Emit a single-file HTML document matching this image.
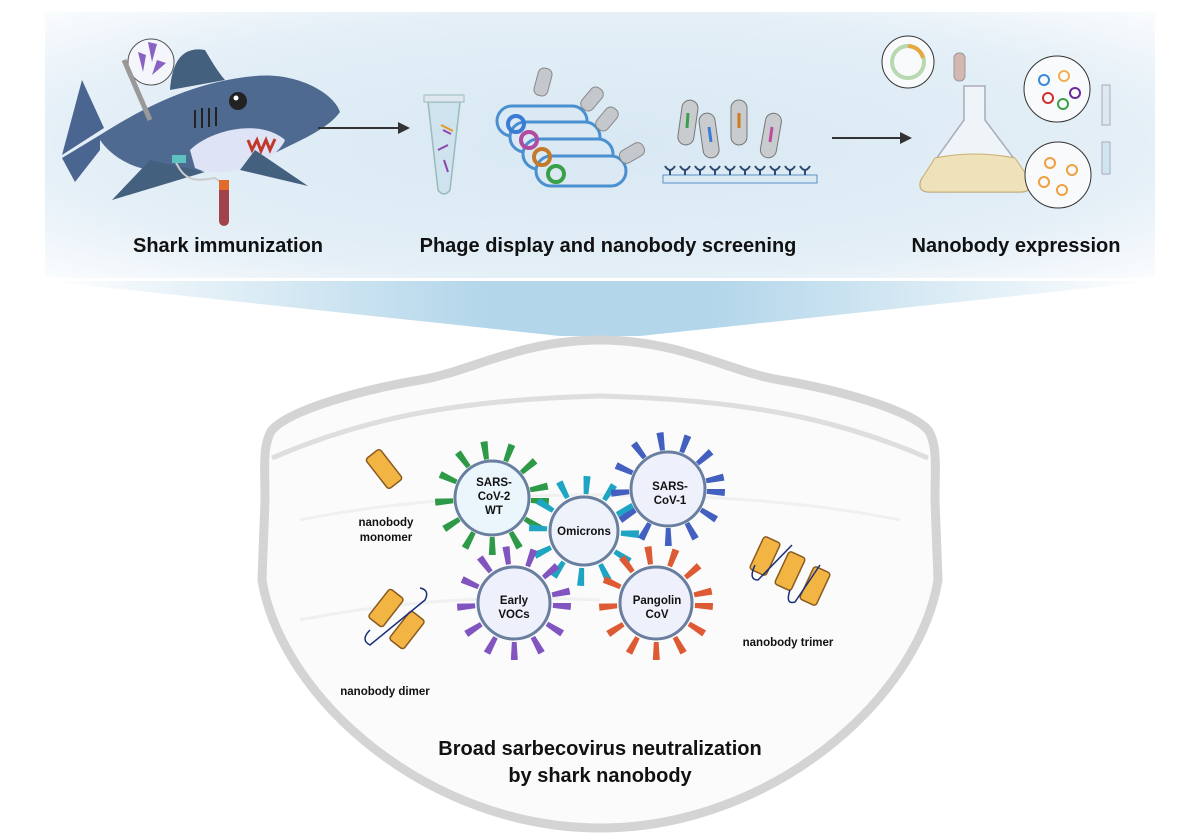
<!DOCTYPE html>
<html><head><meta charset="utf-8"><style>
html,body{margin:0;padding:0;background:#fff;}
svg{display:block;}
text{font-family:"Liberation Sans",sans-serif;font-weight:bold;fill:#111;}
</style></head><body>
<svg width="1200" height="840" viewBox="0 0 1200 840" xmlns="http://www.w3.org/2000/svg">
<defs>
<radialGradient id="top" cx="0.5" cy="0.5" r="0.75">
<stop offset="0" stop-color="#d8e8f3"/><stop offset="0.65" stop-color="#e4eff7"/><stop offset="1" stop-color="#ffffff"/>
</radialGradient>
<linearGradient id="fun" x1="0" x2="1" y1="0" y2="0">
<stop offset="0" stop-color="#ffffff"/><stop offset="0.4" stop-color="#b3d6ea"/><stop offset="0.6" stop-color="#b3d6ea"/><stop offset="1" stop-color="#ffffff"/>
</linearGradient>
</defs>
<rect x="45" y="12" width="1110" height="266" fill="url(#top)"/>
<path d="M45,281 L1155,281 L640,336 L560,336 Z" fill="url(#fun)"/>

<!-- shark -->
<path d="M62,155 L82,80 L104,128 Z" fill="#4a6590"/>
<path d="M62,158 L100,135 L100,150 L75,182 Z" fill="#4a6590"/>
<path d="M100,135 C140,110 190,82 255,76 C300,72 335,95 340,112 C330,126 310,136 285,148 C250,166 200,176 150,170 C125,166 108,152 100,140 Z" fill="#4f6a91"/>
<path d="M170,90 C172,62 182,46 205,50 C212,62 218,72 225,80 Z" fill="#44607f"/>
<path d="M190,150 C210,130 260,118 285,140 C275,165 220,180 195,168 Z" fill="#dfe3f6"/>
<path d="M255,150 L308,186 L240,170 Z" fill="#44607f"/>
<path d="M150,160 L112,200 L205,172 Z" fill="#44607f"/>
<path d="M248,140 L252,150 L257,140 L261,151 L266,140 L270,150 L275,139" stroke="#c0392b" stroke-width="3" fill="none"/>
<circle cx="238" cy="101" r="9" fill="#222"/><circle cx="236" cy="98" r="2.5" fill="#fff"/>
<g stroke="#222" stroke-width="2"><line x1="195" y1="110" x2="195" y2="128"/><line x1="202" y1="108" x2="202" y2="128"/><line x1="209" y1="108" x2="209" y2="127"/><line x1="216" y1="107" x2="216" y2="126"/></g>
<circle cx="151" cy="62" r="23" fill="#f4f6fb" stroke="#555" stroke-width="1"/>
<g fill="#8a62c3"><path d="M138,52 L146,55 L143,72 Z"/><path d="M148,42 L157,44 L152,62 Z"/><path d="M157,60 L166,63 L152,75 Z"/></g>
<line x1="124" y1="60" x2="150" y2="120" stroke="#999" stroke-width="5"/>
<path d="M175,160 C185,185 200,180 215,178 L225,185" stroke="#ccc" stroke-width="2" fill="none"/>
<rect x="172" y="155" width="14" height="8" fill="#5ec3c0"/>
<rect x="219" y="182" width="10" height="44" rx="5" fill="#a2424a"/>
<rect x="219" y="180" width="10" height="10" fill="#e26b2a"/>
<line x1="318" y1="128" x2="398" y2="128" stroke="#333" stroke-width="2"/>
<path d="M398,122 L410,128 L398,134 Z" fill="#333"/>

<!-- tube -->
<path d="M428,102 L460,102 L450,190 Q444,198 438,190 Z" fill="#cfe3ef" stroke="#9bb" stroke-width="1.5"/>
<rect x="424" y="95" width="40" height="7" fill="#dfe8ee" stroke="#9bb"/>
<path d="M443,130 l8,4 M438,150 l10,-5 M444,160 l4,12" stroke="#8e44ad" stroke-width="2"/>
<path d="M441,125 l12,6" stroke="#e69a20" stroke-width="2"/>
<!-- bacteria stack -->
<g fill="#dbe9f4" stroke="#4a8fd0" stroke-width="3">
<rect x="497" y="106" width="90" height="30" rx="15"/>
<rect x="510" y="122" width="90" height="30" rx="15"/>
<rect x="523" y="139" width="90" height="30" rx="15"/>
<rect x="536" y="156" width="90" height="30" rx="15"/>
</g>
<g fill="none" stroke-width="4">
<circle cx="516" cy="124" r="8" stroke="#3a7bd5"/><circle cx="529" cy="140" r="8" stroke="#b04ba0"/>
<circle cx="542" cy="157" r="8" stroke="#c47a2a"/><circle cx="556" cy="174" r="8" stroke="#3aa04a"/>
</g>
<g fill="#c4c8cc" stroke="#888" stroke-width="1">
<rect x="536" y="68" width="14" height="28" rx="6" transform="rotate(15 543 82)"/>
<rect x="585" y="86" width="14" height="26" rx="6" transform="rotate(40 592 99)"/>
<rect x="600" y="106" width="14" height="26" rx="6" transform="rotate(40 607 119)"/>
<rect x="625" y="140" width="14" height="26" rx="6" transform="rotate(60 632 153)"/>
</g>
<!-- screening -->
<rect x="663" y="175" width="154" height="8" fill="#dbe9f4" stroke="#5a8fc8"/>
<g stroke="#2f4a70" stroke-width="2" fill="none">
<path d="M665,166 q5,8 10,0 M670,170 v5"/><path d="M680,166 q5,8 10,0 M685,170 v5"/><path d="M695,166 q5,8 10,0 M700,170 v5"/>
<path d="M710,166 q5,8 10,0 M715,170 v5"/><path d="M725,166 q5,8 10,0 M730,170 v5"/><path d="M740,166 q5,8 10,0 M745,170 v5"/>
<path d="M755,166 q5,8 10,0 M760,170 v5"/><path d="M770,166 q5,8 10,0 M775,170 v5"/><path d="M785,166 q5,8 10,0 M790,170 v5"/><path d="M800,166 q5,8 10,0 M805,170 v5"/>
</g>
<g fill="#c8cccf" stroke="#777">
<rect x="680" y="100" width="16" height="45" rx="8" transform="rotate(8 688 122)"/>
<rect x="701" y="113" width="16" height="45" rx="8" transform="rotate(-8 709 135)"/>
<rect x="731" y="100" width="16" height="45" rx="8"/>
<rect x="763" y="113" width="16" height="45" rx="8" transform="rotate(10 771 135)"/>
</g>
<g stroke-width="3"><line x1="688" y1="113" x2="687" y2="128" stroke="#3aa04a"/><line x1="709" y1="127" x2="711" y2="142" stroke="#3a7bd5"/><line x1="739" y1="113" x2="739" y2="128" stroke="#d07a20"/><line x1="772" y1="127" x2="770" y2="142" stroke="#c04aa0"/></g>
<line x1="832" y1="138" x2="900" y2="138" stroke="#333" stroke-width="2"/>
<path d="M900,132 L912,138 L900,144 Z" fill="#333"/>
<!-- expression -->
<circle cx="908" cy="62" r="26" fill="#f8fafc" stroke="#333" stroke-width="1"/>
<circle cx="908" cy="62" r="16" fill="none" stroke="#b8d8b0" stroke-width="4"/>
<path d="M908,46 A16,16 0 0 1 923,58" stroke="#e8a840" stroke-width="4" fill="none"/>
<rect x="954" y="53" width="11" height="28" rx="5" fill="#d4b7b0" stroke="#999"/>
<path d="M964,86 L985,86 L985,120 L1030,180 Q1033,192 1020,192 L930,192 Q917,192 921,180 L964,120 Z" fill="#eef4f8" stroke="#aab" stroke-width="1.5"/>
<path d="M935,158 Q975,150 1015,158 L1030,180 Q1033,192 1020,192 L930,192 Q917,192 921,180 Z" fill="#efe2bb" stroke="#c8b070"/>
<circle cx="1057" cy="89" r="33" fill="#f8fafc" stroke="#333"/>
<circle cx="1058" cy="175" r="33" fill="#f8fafc" stroke="#333"/>
<g fill="none" stroke-width="2">
<circle cx="1044" cy="80" r="5" stroke="#3a8ad5"/><circle cx="1064" cy="76" r="5" stroke="#f0b050"/><circle cx="1075" cy="93" r="5" stroke="#6a2aa0"/><circle cx="1048" cy="98" r="5" stroke="#d03030"/><circle cx="1063" cy="104" r="5" stroke="#3aa04a"/>
<circle cx="1050" cy="163" r="5" stroke="#f0a040"/><circle cx="1072" cy="170" r="5" stroke="#f0a040"/><circle cx="1044" cy="182" r="5" stroke="#f0a040"/><circle cx="1062" cy="190" r="5" stroke="#f0a040"/>
</g>
<rect x="1102" y="85" width="8" height="40" fill="#dde8ef" stroke="#aab"/>
<rect x="1102" y="142" width="8" height="32" fill="#cfe5f2" stroke="#aab"/>

<text x="228" y="252" font-size="20" text-anchor="middle">Shark immunization</text>
<text x="608" y="252" font-size="20" text-anchor="middle">Phage display and nanobody screening</text>
<text x="1016" y="252" font-size="20" text-anchor="middle">Nanobody expression</text>

<!-- mask -->
<path d="M600,340 C520,340 470,372 420,380 C360,390 290,410 272,430 C262,445 265,470 265,500 L262,580 C282,700 430,828 600,828 C770,828 918,700 938,580 L935,500 C935,470 938,445 928,430 C910,410 840,390 780,380 C730,372 680,340 600,340 Z" fill="#fbfbfb" stroke="#d4d4d4" stroke-width="9"/>
<path d="M272,458 C360,420 450,400 600,396 C750,400 840,420 928,458" fill="none" stroke="#dedede" stroke-width="5"/>
<path d="M300,520 C400,500 500,495 600,495 M300,620 C400,600 500,595 600,600 M600,495 C700,495 800,500 900,520" fill="none" stroke="#f0f0f0" stroke-width="3"/>

<!-- viruses -->
<g stroke-dasharray="6 18">
<circle cx="492" cy="498" r="48" fill="none" stroke="#2e9a47" stroke-width="18"/>
<circle cx="584" cy="531" r="46" fill="none" stroke="#1ea5c4" stroke-width="18"/>
<circle cx="668" cy="489" r="48" fill="none" stroke="#4360c0" stroke-width="18"/>
<circle cx="514" cy="603" r="48" fill="none" stroke="#8254c0" stroke-width="18"/>
<circle cx="656" cy="603" r="48" fill="none" stroke="#de5a34" stroke-width="18"/>
</g>
<g stroke="#6a7fa0" stroke-width="3">
<circle cx="492" cy="498" r="37" fill="#eaf6fb"/>
<circle cx="584" cy="531" r="34" fill="#eef3fb"/>
<circle cx="668" cy="489" r="37" fill="#eef1fb"/>
<circle cx="514" cy="603" r="36" fill="#eef0fb"/>
<circle cx="656" cy="603" r="36" fill="#eef1fb"/>
</g>
<g font-size="11.5" text-anchor="middle">
<text x="494" y="486">SARS-</text><text x="494" y="500">CoV-2</text><text x="494" y="514">WT</text>
<text x="584" y="535">Omicrons</text>
<text x="670" y="490">SARS-</text><text x="670" y="504">CoV-1</text>
<text x="514" y="604">Early</text><text x="514" y="618">VOCs</text>
<text x="657" y="604">Pangolin</text><text x="657" y="618">CoV</text>
</g>
<!-- nanobodies -->
<g fill="#f2b544" stroke="#8a5a20" stroke-width="1.5">
<rect x="375" y="450" width="18" height="38" rx="3" transform="rotate(-38 384 469)"/>
<rect x="377" y="590" width="18" height="36" rx="3" transform="rotate(38 386 608)"/>
<rect x="398" y="612" width="18" height="36" rx="3" transform="rotate(38 407 630)"/>
<rect x="756" y="538" width="18" height="36" rx="3" transform="rotate(25 765 556)"/>
<rect x="781" y="553" width="18" height="36" rx="3" transform="rotate(25 790 571)"/>
<rect x="806" y="568" width="18" height="36" rx="3" transform="rotate(25 815 586)"/>
</g>
<path d="M370,630 Q360,640 370,645 L425,600 Q430,590 420,588" fill="none" stroke="#1a2f7a" stroke-width="1.5"/>
<path d="M755,565 Q748,580 758,580 L792,545 M790,590 Q785,605 795,602 L820,565" fill="none" stroke="#1a2f7a" stroke-width="1.5"/>
<g font-size="11.5" text-anchor="middle">
<text x="386" y="526">nanobody</text><text x="386" y="541">monomer</text>
<text x="385" y="695">nanobody dimer</text>
<text x="788" y="646">nanobody trimer</text>
</g>
<text x="600" y="755" font-size="20" text-anchor="middle">Broad sarbecovirus neutralization</text>
<text x="600" y="782" font-size="20" text-anchor="middle">by shark nanobody</text>
</svg>
</body></html>
